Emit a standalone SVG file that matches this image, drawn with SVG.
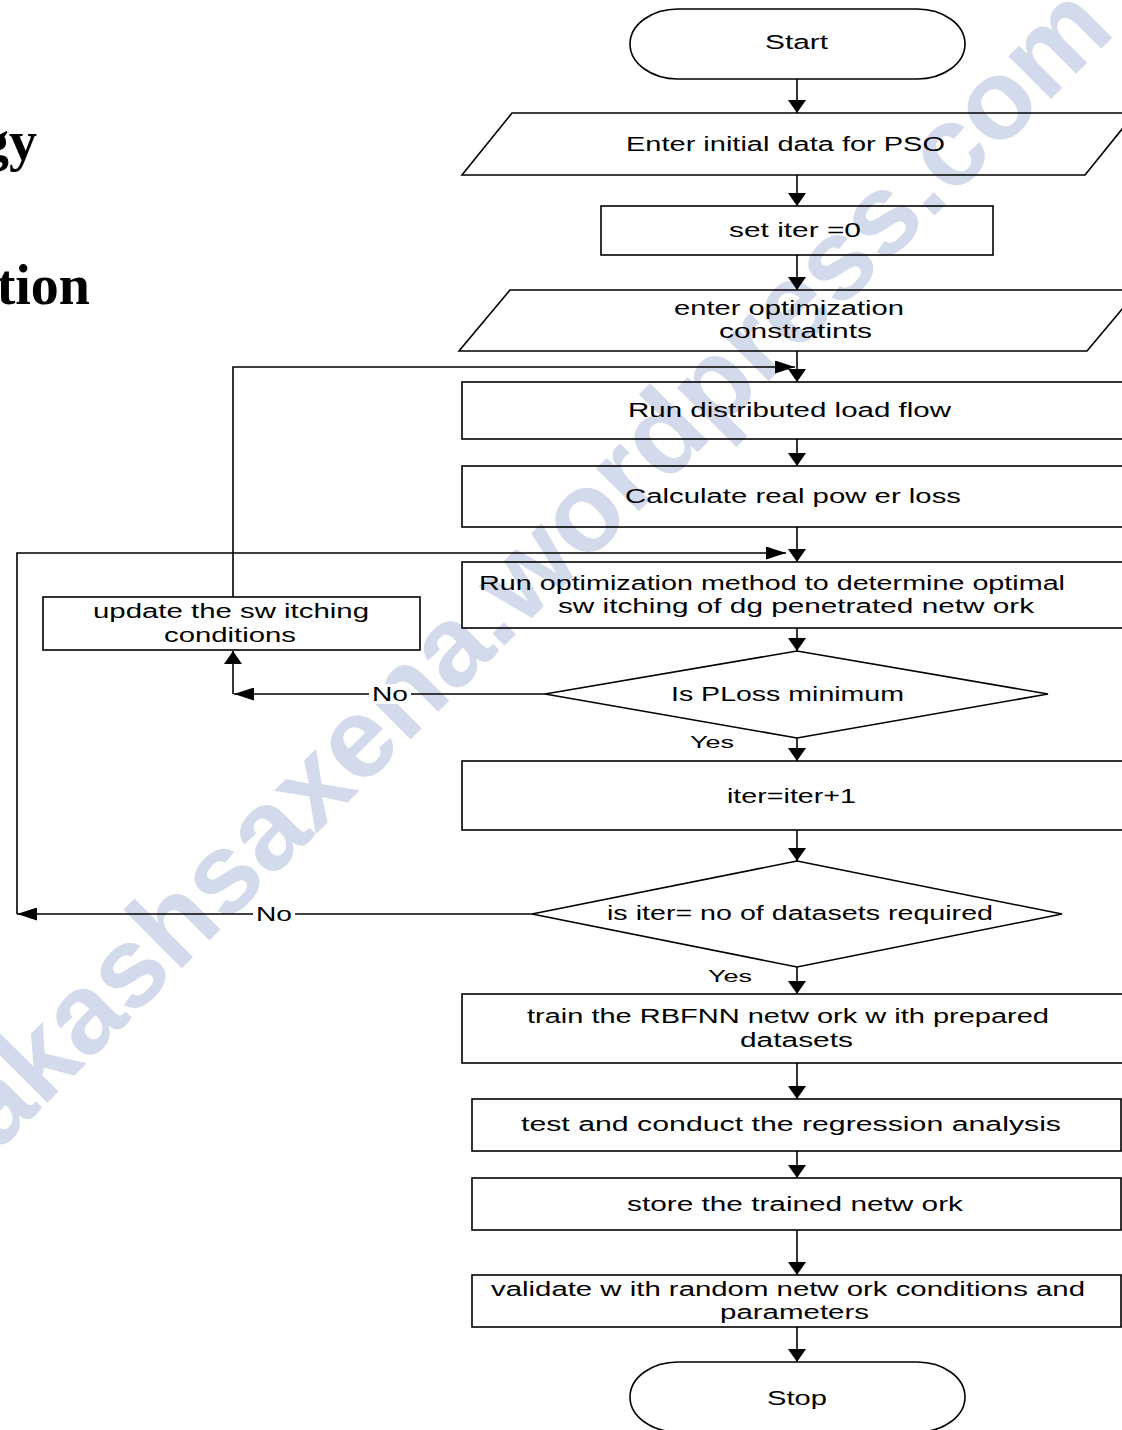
<svg xmlns="http://www.w3.org/2000/svg" width="1122" height="1430" viewBox="0 0 1122 1430">
  <style>
    .shape{fill:none;stroke:#000;stroke-width:1.6}
    .wire{fill:none;stroke:#000;stroke-width:1.6}
    .lbl{font-family:"Liberation Sans",Arial,Helvetica,sans-serif;font-size:20px;fill:#000}
    .small{font-size:17px}
    .title{font-family:"Liberation Serif","Times New Roman",serif;font-weight:bold;font-size:56px;fill:#000}
    .mark{font-family:"Liberation Sans",Arial,sans-serif;font-weight:bold;font-size:114px;fill:#d3daeb}
  </style>
  <defs>
    <!-- arrowhead for vertical runs: short and wide -->
    <marker id="arrow-v" markerUnits="userSpaceOnUse" markerWidth="13" markerHeight="18" viewBox="0 0 13 18" refX="13" refY="9" orient="auto">
      <path d="M0,0 L13,9 L0,18 z" fill="#000"/>
    </marker>
    <!-- arrowhead for horizontal runs: long and narrow -->
    <marker id="arrow-h" markerUnits="userSpaceOnUse" markerWidth="20" markerHeight="13" viewBox="0 0 20 13" refX="20" refY="6.5" orient="auto">
      <path d="M0,0 L20,6.5 L0,13 z" fill="#000"/>
    </marker>
  </defs>

  <rect width="1122" height="1430" fill="#fff"/>

  <!-- background watermark -->
  <text class="mark" transform="translate(-3,1153) rotate(-45)">akashsaxena.wordpress.com</text>

  <!-- page heading fragments at the left margin -->
  <text class="title" x="37" y="160" text-anchor="end">gy</text>
  <text class="title" x="90" y="304" text-anchor="end">tion</text>

  <!-- connectors -->
  <g id="connectors">
    <path class="wire" d="M797,79 V113" marker-end="url(#arrow-v)"/>
    <path class="wire" d="M797,175 V206" marker-end="url(#arrow-v)"/>
    <path class="wire" d="M797,255 V290" marker-end="url(#arrow-v)"/>
    <path class="wire" d="M797,351 V382" marker-end="url(#arrow-v)"/>
    <path class="wire" d="M797,439 V466" marker-end="url(#arrow-v)"/>
    <path class="wire" d="M797,527 V562" marker-end="url(#arrow-v)"/>
    <path class="wire" d="M797,628 V651" marker-end="url(#arrow-v)"/>
    <path class="wire" d="M797,738 V761" marker-end="url(#arrow-v)"/>
    <path class="wire" d="M797,830 V861" marker-end="url(#arrow-v)"/>
    <path class="wire" d="M797,967 V994" marker-end="url(#arrow-v)"/>
    <path class="wire" d="M797,1063 V1099" marker-end="url(#arrow-v)"/>
    <path class="wire" d="M797,1151 V1178" marker-end="url(#arrow-v)"/>
    <path class="wire" d="M797,1230 V1275" marker-end="url(#arrow-v)"/>
    <path class="wire" d="M797,1327 V1362" marker-end="url(#arrow-v)"/>
    <!-- PLoss not minimum: back to switching update -->
    <path class="wire" d="M545,694 H234" marker-end="url(#arrow-h)"/>
    <path class="wire" d="M233,694 V651" marker-end="url(#arrow-v)"/>
    <path class="wire" d="M233,597 V367 H795" marker-end="url(#arrow-h)"/>
    <!-- dataset count not reached: loop to optimization -->
    <path class="wire" d="M532,914 H17" marker-end="url(#arrow-h)"/>
    <path class="wire" d="M17,914 V553 H786" marker-end="url(#arrow-h)"/>
    <!-- branch labels -->
    <rect x="369" y="684" width="42" height="20" fill="#fff"/>
    <text class="lbl" x="372" y="701" textLength="36" lengthAdjust="spacingAndGlyphs">No</text>
    <rect x="253" y="904" width="42" height="20" fill="#fff"/>
    <text class="lbl" x="256" y="921" textLength="36" lengthAdjust="spacingAndGlyphs">No</text>
    <text class="lbl small" x="690" y="748" textLength="44" lengthAdjust="spacingAndGlyphs">Yes</text>
    <text class="lbl small" x="708" y="982" textLength="44" lengthAdjust="spacingAndGlyphs">Yes</text>
  </g>

  <g id="node-start">
    <rect class="shape" x="630" y="9" width="335" height="70" rx="48" ry="35"/>
    <text class="lbl" x="765" y="49" textLength="63" lengthAdjust="spacingAndGlyphs">Start</text>
  </g>

  <g id="node-pso-data">
    <path class="shape" d="M512,113 H1135 L1085,175 H462 Z"/>
    <text class="lbl" x="626" y="151" textLength="319" lengthAdjust="spacingAndGlyphs">Enter initial data for PSO</text>
  </g>

  <g id="node-iter-init">
    <rect class="shape" x="601" y="206" width="392" height="49"/>
    <text class="lbl" x="729" y="237" textLength="132" lengthAdjust="spacingAndGlyphs">set iter =0</text>
  </g>

  <g id="node-constraints">
    <path class="shape" d="M510,290 H1138 L1087,351 H459 Z"/>
    <text class="lbl" x="674" y="315" textLength="230" lengthAdjust="spacingAndGlyphs">enter optimization</text>
    <text class="lbl" x="719" y="338" textLength="153" lengthAdjust="spacingAndGlyphs">constratints</text>
  </g>

  <g id="node-load-flow">
    <rect class="shape" x="462" y="382" width="670" height="57"/>
    <text class="lbl" x="628" y="417" textLength="323" lengthAdjust="spacingAndGlyphs">Run distributed load flow</text>
  </g>

  <g id="node-power-loss">
    <rect class="shape" x="462" y="466" width="670" height="61"/>
    <text class="lbl" x="625" y="503" textLength="336" lengthAdjust="spacingAndGlyphs">Calculate real pow er loss</text>
  </g>

  <g id="node-optimize">
    <rect class="shape" x="462" y="562" width="670" height="66"/>
    <text class="lbl" x="479" y="590" textLength="586" lengthAdjust="spacingAndGlyphs">Run optimization method to determine optimal</text>
    <text class="lbl" x="558" y="613" textLength="476" lengthAdjust="spacingAndGlyphs">sw itching of dg penetrated netw ork</text>
  </g>

  <g id="node-update-switching">
    <rect class="shape" x="43" y="597" width="377" height="53"/>
    <text class="lbl" x="93" y="618" textLength="276" lengthAdjust="spacingAndGlyphs">update the sw itching</text>
    <text class="lbl" x="164" y="642" textLength="132" lengthAdjust="spacingAndGlyphs">conditions</text>
  </g>

  <g id="node-ploss-check">
    <path class="shape" d="M797,651 L1048,694 L797,738 L545,694 Z"/>
    <text class="lbl" x="671" y="701" textLength="233" lengthAdjust="spacingAndGlyphs">Is PLoss minimum</text>
  </g>

  <g id="node-iter-inc">
    <rect class="shape" x="462" y="761" width="670" height="69"/>
    <text class="lbl" x="727" y="803" textLength="129" lengthAdjust="spacingAndGlyphs">iter=iter+1</text>
  </g>

  <g id="node-dataset-check">
    <path class="shape" d="M797,861 L1062,914 L797,967 L532,914 Z"/>
    <text class="lbl" x="607" y="920" font-size="18" textLength="386" lengthAdjust="spacingAndGlyphs">is iter= no of datasets required</text>
  </g>

  <g id="node-train">
    <rect class="shape" x="462" y="994" width="670" height="69"/>
    <text class="lbl" x="527" y="1023" textLength="522" lengthAdjust="spacingAndGlyphs">train the RBFNN netw ork w ith prepared</text>
    <text class="lbl" x="740" y="1047" textLength="113" lengthAdjust="spacingAndGlyphs">datasets</text>
  </g>

  <g id="node-test">
    <rect class="shape" x="472" y="1099" width="649" height="52"/>
    <text class="lbl" x="521" y="1131" textLength="540" lengthAdjust="spacingAndGlyphs">test and conduct the regression analysis</text>
  </g>

  <g id="node-store">
    <rect class="shape" x="472" y="1178" width="649" height="52"/>
    <text class="lbl" x="627" y="1211" textLength="336" lengthAdjust="spacingAndGlyphs">store the trained netw ork</text>
  </g>

  <g id="node-validate">
    <rect class="shape" x="472" y="1275" width="649" height="52"/>
    <text class="lbl" x="491" y="1296" textLength="594" lengthAdjust="spacingAndGlyphs">validate w ith random netw ork conditions and</text>
    <text class="lbl" x="720" y="1319" textLength="149" lengthAdjust="spacingAndGlyphs">parameters</text>
  </g>

  <g id="node-stop">
    <rect class="shape" x="630" y="1362" width="335" height="70" rx="48" ry="35"/>
    <text class="lbl" x="767" y="1405" textLength="60" lengthAdjust="spacingAndGlyphs">Stop</text>
  </g>
</svg>
